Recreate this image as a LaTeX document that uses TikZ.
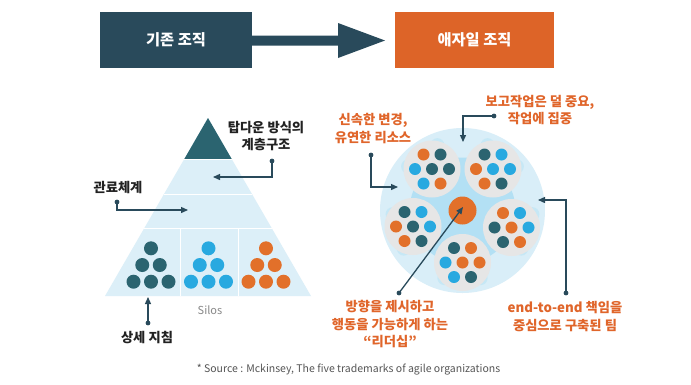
\documentclass[tikz,border=0pt]{standalone}
\usepackage{fontspec}
\setmainfont{Noto Sans CJK KR}
\usetikzlibrary{arrows.meta,calc}
\definecolor{navy}{HTML}{294A5B}
\definecolor{cT}{HTML}{2B6470}
\definecolor{cB}{HTML}{28A9E0}
\definecolor{cO}{HTML}{E2702A}
\definecolor{boxO}{HTML}{DD6428}
\definecolor{txtO}{HTML}{E0652A}
\definecolor{txtD}{HTML}{222222}
\definecolor{pyr}{HTML}{DCEFF8}
\definecolor{ring}{HTML}{D9EEF8}
\definecolor{midb}{HTML}{C6E8F6}
\definecolor{innerb}{HTML}{B3E0F4}
\definecolor{podg}{HTML}{E6E6E6}
\definecolor{srcg}{HTML}{555555}
\definecolor{silog}{HTML}{888888}
\newcommand\mypod[9]{%
  \fill[podg] (#1,#2) circle[radius=28.5pt];
  \fill[#3] (#1-8.5,#2-14.5) circle[radius=6pt];
  \fill[#4] (#1+8.5,#2-14.5) circle[radius=6pt];
  \fill[#5] (#1-17,#2) circle[radius=6pt];
  \fill[#6] (#1,#2) circle[radius=6pt];
  \fill[#7] (#1+17,#2) circle[radius=6pt];
  \fill[#8] (#1-8.5,#2+14.5) circle[radius=6pt];
  \fill[#9] (#1+8.5,#2+14.5) circle[radius=6pt];
}
\newcommand\mygroup[2]{%
  \fill[#2] (#1,248.3) circle[radius=7pt];
  \fill[#2] (#1-8.75,265) circle[radius=7pt];
  \fill[#2] (#1+8.75,265) circle[radius=7pt];
  \fill[#2] (#1-17.5,281.7) circle[radius=7pt];
  \fill[#2] (#1,281.7) circle[radius=7pt];
  \fill[#2] (#1+17.5,281.7) circle[radius=7pt];
}
\begin{document}
\begin{tikzpicture}[x=1pt,y=-1pt,
  hdr/.style={minimum height=56pt,inner sep=0pt,text=white,font=\fontsize{15.3}{17}\selectfont\bfseries},
  lbl/.style={align=center,font=\fontsize{13.3}{17.5}\selectfont\bfseries,text=#1,inner sep=0pt},
  arr/.style={draw=navy,line width=1.3pt,-{Triangle[length=7pt,width=6pt]}},
  enddot/.style={fill=navy},
  ]
\useasboundingbox (0,0) rectangle (691,384);
\fill[white] (0,0) rectangle (691,384);

% header
\node[hdr,fill=navy,minimum width=152pt] (old) at (176,40) {기존 조직};
\node[hdr,fill=boxO,minimum width=159pt] (new) at (474.5,40) {애자일 조직};
\fill[navy] (251,35.5) -- (338,35.5) -- (338,23) -- (385,40.5) -- (338,58) -- (338,45.5) -- (251,45.5) -- cycle;

% pyramid
\fill[pyr] (208,118) -- (311,296) -- (105,296) -- cycle;
\fill[cT] (208,118) -- (231.7,159) -- (184.3,159) -- cycle;
\draw[white,line width=1pt] (184.3,159) -- (231.7,159);
\draw[white,line width=1pt] (164,194) -- (252,194);
\draw[white,line width=1pt] (144.4,228) -- (271.6,228);
\draw[white,line width=1pt] (180.7,228) -- (180.7,296);
\draw[white,line width=1pt] (238.3,228) -- (238.3,296);
\mygroup{151}{cT}
\mygroup{208.5}{cB}
\mygroup{266}{cO}

% agile circle
\coordinate (cc) at (462.5,210.5);
\fill[ring] (cc) circle[radius=82.5pt];
\foreach \a in {90,18,306,234,162}{
  \fill[midb] ($(cc)+(\a+15:70)$) circle[radius=7pt];
  \fill[midb] ($(cc)+(\a-15:70)$) circle[radius=7pt];
  \fill[midb] ($(cc)+(\a+9:62)$) circle[radius=6pt];
  \fill[midb] ($(cc)+(\a-9:62)$) circle[radius=6pt];
}
\fill[innerb] (cc) circle[radius=53pt];
\foreach \a in {90,18,306,234,162}{
  \draw[innerb,line width=9pt] (cc) -- ($(cc)+(\a:64)$);
  \fill[innerb] ($(cc)+(\a:67)$) circle[radius=8pt];
}
\mypod{432}{169}{cO}{cT}{cB}{cT}{cT}{cB}{cO}
\mypod{493}{169}{cT}{cB}{cO}{cB}{cB}{cO}{cT}
\mypod{413}{226.5}{cT}{cB}{cO}{cT}{cB}{cO}{cT}
\mypod{511.5}{227.5}{cO}{cB}{cT}{cO}{cB}{cT}{cO}
\mypod{462.5}{262.5}{cT}{cO}{cB}{cO}{cO}{cB}{cT}
\node[circle,fill=cO,minimum size=28pt,inner sep=0pt] (lead) at (cc) {};

% labels
\node[lbl=txtD] (top) at (266,136) {탑다운 방식의\\계층구조};
\node[lbl=txtD] (bur) at (118,188) {관료체계};
\node[lbl=txtD] (det) at (147,338) {상세 지침};
\node[font=\fontsize{11}{13}\selectfont,text=silog] (silos) at (210,310) {Silos};
\node[lbl=txtO] (rep) at (540,110) {보고작업은 덜 중요,\\작업에 집중};
\node[lbl=txtO] (fast) at (373,128.5) {신속한 변경,\\유연한 리소스};
\node[lbl=txtO] (ldr) at (390,324) {방향을 제시하고\\행동을 가능하게 하는\\“리더십”};
\node[lbl=txtO] (team) at (565,316.5) {end-to-end 책임을\\중심으로 구축된 팀};
\node[font=\fontsize{10.5}{12}\selectfont,text=srcg] (src) at (348.5,370) {* Source : Mckinsey, The five trademarks of agile organizations};

% connectors
\coordinate (d1) at (272,161); \coordinate (t1) at (213,177);
\coordinate (d2) at (117,202); \coordinate (t2) at (188,210);
\coordinate (d3) at (148,323); \coordinate (t3) at (148,297);
\coordinate (d4) at (494,116); \coordinate (t4) at (463,142);
\coordinate (d5) at (371,155); \coordinate (t5) at (398,187);
\coordinate (d6) at (399,293); \coordinate (t6) at (463,207);
\coordinate (d7) at (566,293); \coordinate (t7) at (538,200);
\foreach \d in {d1,d2,d3,d4,d5,d6,d7}{\fill[enddot] (\d) circle[radius=2.4pt];}
\draw[arr] (d1) |- (t1);
\draw[arr] (d2) |- (t2);
\draw[arr] (d3) -- (t3);
\draw[arr] (d4) -| (t4);
\draw[arr] (d5) |- (t5);
\draw[arr] (d6) -- (t6);
\draw[arr] (d7) |- (t7);
\end{tikzpicture}
\end{document}
